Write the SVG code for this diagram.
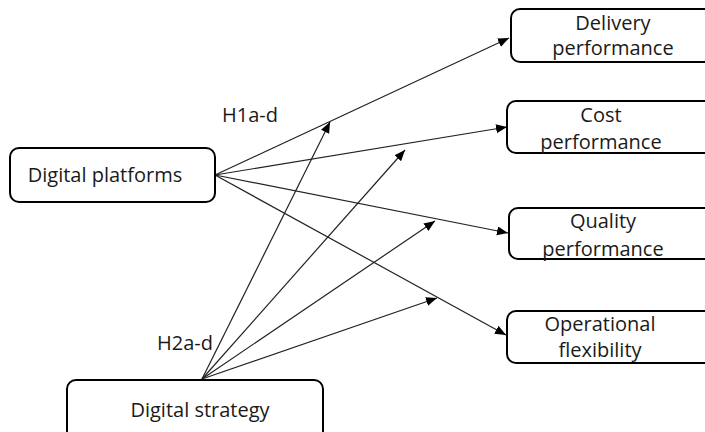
<svg xmlns="http://www.w3.org/2000/svg" width="705" height="432" viewBox="0 0 705 432">
  <style>
    .box { fill: #ffffff; stroke: #000000; stroke-width: 2; }
    .lbl { font-family: "Open Sans", "Liberation Sans", sans-serif; font-size: 20px; fill: #1a1a1a; text-anchor: middle; }
    .hyp { font-family: "Open Sans", "Liberation Sans", sans-serif; font-size: 20px; fill: #1a1a1a; }
    .edge { fill: none; stroke: #222222; stroke-width: 1.2; marker-end: url(#arrow); }
  </style>
  <defs>
    <marker id="arrow" markerUnits="userSpaceOnUse" markerWidth="12" markerHeight="10" refX="11" refY="4.5" orient="auto">
      <path d="M0,0 L11,4.5 L0,9 z" fill="#000000"/>
    </marker>
  </defs>
  <rect width="705" height="432" fill="#ffffff"/>

  <!-- relationships -->
  <g id="connectors">
    <line class="edge" x1="215" y1="175" x2="509" y2="38"/>
    <line class="edge" x1="215" y1="175" x2="507" y2="127"/>
    <line class="edge" x1="215" y1="175" x2="508" y2="233"/>
    <line class="edge" x1="215" y1="175" x2="506" y2="335"/>
    <line class="edge" x1="202" y1="379" x2="330" y2="122"/>
    <line class="edge" x1="202" y1="379" x2="405" y2="150"/>
    <line class="edge" x1="202" y1="379" x2="435" y2="221"/>
    <line class="edge" x1="202" y1="379" x2="437" y2="298"/>
  </g>

  <g id="labels">
    <text class="hyp" x="222" y="122">H1a-d</text>
    <text class="hyp" x="157" y="350">H2a-d</text>
  </g>

  <g id="digital-platforms">
    <rect class="box" x="10" y="148" width="205" height="54" rx="9"/>
    <text class="lbl" x="105" y="182">Digital platforms</text>
  </g>

  <g id="digital-strategy">
    <rect class="box" x="67" y="380" width="256" height="70" rx="9"/>
    <text class="lbl" x="200" y="417">Digital strategy</text>
  </g>

  <g id="delivery-performance">
    <rect class="box" x="511" y="9" width="210" height="53" rx="9"/>
    <text class="lbl" x="613" y="30">Delivery</text>
    <text class="lbl" x="613" y="55">performance</text>
  </g>

  <g id="cost-performance">
    <rect class="box" x="507" y="101" width="214" height="52" rx="9"/>
    <text class="lbl" x="601" y="122">Cost</text>
    <text class="lbl" x="601" y="149">performance</text>
  </g>

  <g id="quality-performance">
    <rect class="box" x="509" y="208" width="212" height="51" rx="9"/>
    <text class="lbl" x="603" y="228">Quality</text>
    <text class="lbl" x="603" y="256">performance</text>
  </g>

  <g id="operational-flexibility">
    <rect class="box" x="507" y="311" width="214" height="52" rx="9"/>
    <text class="lbl" x="600" y="331">Operational</text>
    <text class="lbl" x="600" y="357">flexibility</text>
  </g>
</svg>
